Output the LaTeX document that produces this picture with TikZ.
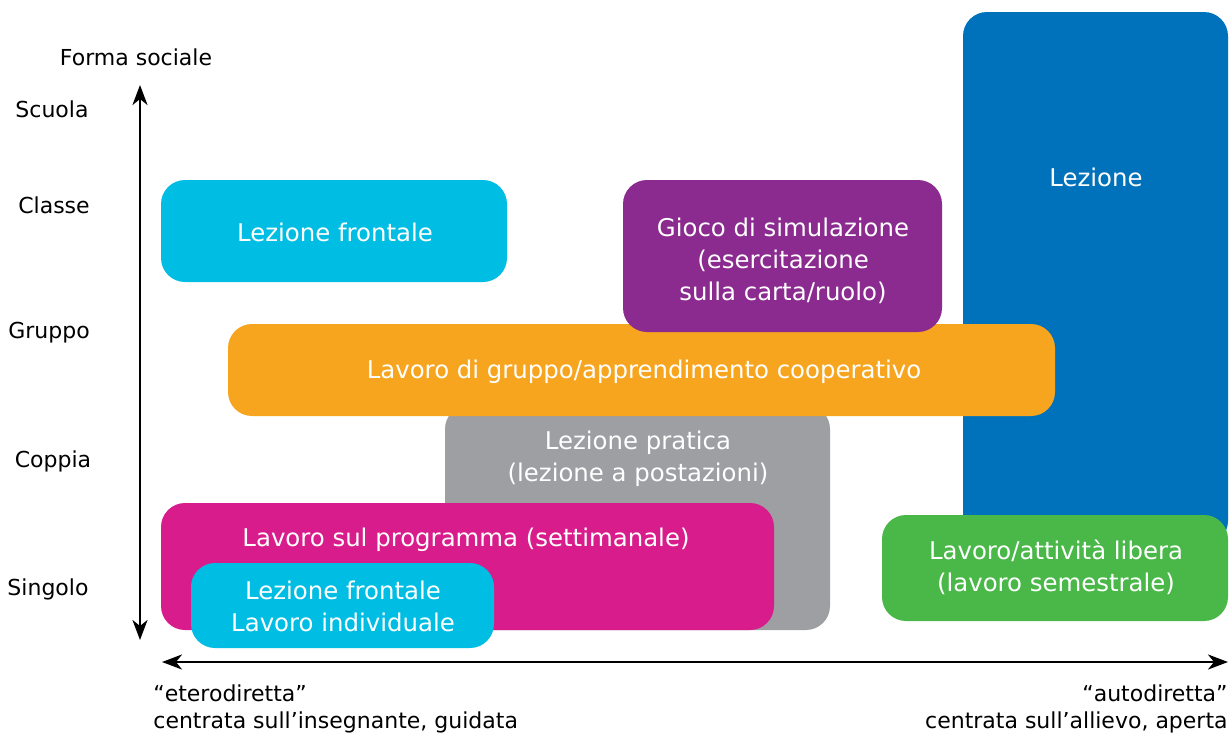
\documentclass[tikz,border=0pt]{standalone}
\usepackage{fontspec}
\setmainfont{DejaVu Sans}
\usetikzlibrary{arrows.meta}
\definecolor{lezblu}{HTML}{0072BC}
\definecolor{ciano}{HTML}{00BEE3}
\definecolor{viola}{HTML}{8B2A8F}
\definecolor{arancio}{HTML}{F7A51E}
\definecolor{grigio}{HTML}{9D9FA2}
\definecolor{fucsia}{HTML}{D91C8C}
\definecolor{verde}{HTML}{4AB848}
\tikzset{
  box/.style={rounded corners=12pt},
  boxtxt/.style={text=white,align=center,font=\fontsize{12.2}{16}\selectfont},
  lbl/.style={font=\fontsize{11}{13.5}\selectfont},
  asse/.style={line width=1.3pt,{Stealth[length=10pt,width=7.5pt,inset=3pt]}-{Stealth[length=10pt,width=7.5pt,inset=3pt]}}
}
\begin{document}
\begin{tikzpicture}[x=0.5pt,y=-0.5pt]
\useasboundingbox (0,0) rectangle (1232,735);
% riquadri
\fill[box,lezblu] (963,12) rectangle (1228,545);
\fill[box,grigio] (445,405) rectangle (830,630);
\fill[box,arancio] (228,324) rectangle (1055,416);
\fill[box,viola] (623,180) rectangle (942,332);
\fill[box,ciano] (161,180) rectangle (507,282);
\fill[box,fucsia] (161,503) rectangle (774,630);
\fill[box,ciano] (191,563) rectangle (494,648);
\fill[box,verde] (882,515) rectangle (1228,621);
% testi
\node[boxtxt] (lezione) at (1096,177) {Lezione};
\node[boxtxt] (frontale) at (335,232) {Lezione frontale};
\node[boxtxt] (gioco) at (783,261) {Gioco di simulazione\\(esercitazione\\sulla carta/ruolo)};
\node[boxtxt] (gruppo) at (644,372) {Lavoro di gruppo/apprendimento cooperativo};
\node[boxtxt] (pratica) at (638,459) {Lezione pratica\\(lezione a postazioni)};
\node[boxtxt] (programma) at (466,540) {Lavoro sul programma (settimanale)};
\node[boxtxt] (individuale) at (343,606) {Lezione frontale\\Lavoro individuale};
\node[boxtxt] (libera) at (1056,567) {Lavoro/attività libera\\(lavoro semestrale)};
% assi
\coordinate (ytop) at (140,85);
\coordinate (ybot) at (140,640);
\coordinate (xsx) at (162,662);
\coordinate (xdx) at (1228,662);
\draw[asse] (ybot) -- (ytop);
\draw[asse] (xsx) -- (xdx);
\node[lbl] (forma) at (136,57) {Forma sociale};
\node[lbl] (scuola) at (52,109) {Scuola};
\node[lbl] (classe) at (54,205) {Classe};
\node[lbl] (gruppolbl) at (49,333) {Gruppo};
\node[lbl] (coppia) at (53,461) {Coppia};
\node[lbl] (singolo) at (48,589) {Singolo};
\node[lbl,anchor=base west,align=left,inner sep=0pt] (etero) at (153,728) {“eterodiretta”\\centrata sull'insegnante, guidata};
\node[lbl,anchor=base east,align=right,inner sep=0pt] (auto) at (1228,728) {“autodiretta”\\centrata sull'allievo, aperta};
\end{tikzpicture}
\end{document}
